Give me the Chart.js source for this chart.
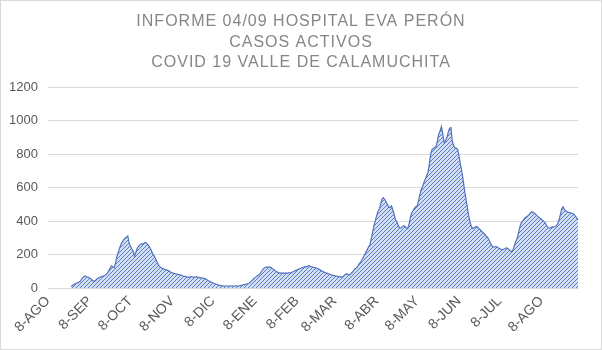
<!DOCTYPE html>
<html><head><meta charset="utf-8">
<script src="https://cdn.jsdelivr.net/npm/chart.js@4"></script>
<style>html,body{margin:0;padding:0;background:#fff}#wrap{width:602px;height:350px;position:relative}</style>
</head><body><div id="wrap"><canvas id="c"></canvas></div>
<script>
const TITLE = ['INFORME 04/09 HOSPITAL EVA PERÓN', 'CASOS ACTIVOS', 'COVID 19 VALLE DE CALAMUCHITA'];
const START_DATE = [2020, 7, 8];
const MESES = ['ENE','FEB','MAR','ABR','MAY','JUN','JUL','AGO','SEP','OCT','NOV','DIC'];
const TICK_LABELS = ['8-AGO','8-SEP','8-OCT','8-NOV','8-DIC','8-ENE','8-FEB','8-MAR','8-ABR','8-MAY','8-JUN','8-JUL','8-AGO'];
const Y_MIN = 0, Y_MAX = 1200, Y_STEP = 200;
const casosActivos = [
  null,null,null,null,null,null,null,null,null,null,null,null,null,null,null,null,null,
  8,15,20,
  24,28,32,36,42,55,64,72,70,66,
  64,58,52,45,40,44,52,58,62,66,
  70,72,76,80,90,104,120,132,126,122,
  150,190,214,240,262,276,288,298,304,312,
  270,250,234,222,192,214,238,250,258,264,
  262,268,272,268,258,248,232,214,198,184,
  168,150,134,126,120,116,112,110,108,104,
  98,94,90,88,86,84,82,80,78,76,
  72,70,68,66,64,66,68,66,64,66,
  66,64,62,62,60,58,56,52,46,42,
  38,34,30,27,24,22,18,16,14,13,
  12,12,12,11,12,12,13,12,12,13,
  12,12,14,16,18,20,22,24,27,30,
  38,46,54,62,68,74,78,88,100,112,
  120,124,126,124,126,122,116,110,104,98,
  94,90,90,88,90,88,90,88,90,90,
  92,96,100,104,108,112,114,118,122,124,
  128,126,130,134,130,126,124,122,120,118,
  114,110,104,100,96,92,90,86,84,80,
  78,76,74,72,70,68,66,66,66,74,
  82,84,80,78,86,94,104,114,120,130,
  142,154,166,180,196,212,228,244,258,290,
  330,370,400,430,458,470,500,530,540,530,
  516,500,486,480,492,470,440,410,396,376,
  360,358,366,372,370,360,355,380,420,450,
  462,476,486,490,520,556,590,606,630,650,
  672,690,740,800,828,834,840,846,880,920,
  940,966,920,870,880,900,930,955,960,880,
  850,840,836,828,790,740,700,650,590,540,
  490,440,400,370,356,360,364,368,362,354,
  346,336,330,322,312,304,290,272,256,246,
  244,248,246,240,236,232,228,232,236,240,
  238,230,222,216,230,256,280,296,330,366,
  390,400,410,420,426,432,440,450,456,452,
  446,438,430,424,418,410,404,396,386,372,
  360,358,362,366,364,368,372,384,408,440,
  476,486,470,460,456,452,450,448,446,440,
  430,420,408
];

// category labels: one per day
const fechas = [];
const dias = [];
for (let i = 0; i < casosActivos.length; i++) {
  const d = new Date(START_DATE[0], START_DATE[1], START_DATE[2] + i);
  fechas.push(d.getDate() + '-' + MESES[d.getMonth()]);
  dias.push(d.getDate());
}
let tickCount = 0;
const tickIndexOf = {};
dias.forEach((d, i) => { if (d === 8) { tickIndexOf[i] = tickCount++; } });

function makePattern() {
  const s = 4;
  const p = document.createElement('canvas');
  p.width = s; p.height = s;
  const g = p.getContext('2d');
  g.fillStyle = '#d3def3';
  g.fillRect(0, 0, s, s);
  g.strokeStyle = '#5d7ec2';
  g.lineWidth = 1;
  g.beginPath();
  g.moveTo(0, s); g.lineTo(s, 0);
  g.moveTo(-1, 1); g.lineTo(1, -1);
  g.moveTo(s - 1, s + 1); g.lineTo(s + 1, s - 1);
  g.stroke();
  return g.createPattern(p, 'repeat');
}

const FONT = "'Liberation Sans', Arial, sans-serif";

const frame = {
  id: 'frame',
  beforeDraw(chart) {
    const ctx = chart.ctx;
    ctx.save();
    ctx.fillStyle = '#ffffff';
    ctx.fillRect(0, 0, chart.width, chart.height);
    ctx.strokeStyle = '#d9d9d9';
    ctx.lineWidth = 1;
    ctx.strokeRect(0.5, 0.5, chart.width - 1, chart.height - 1);
    ctx.restore();
    const tb = chart.titleBlock;
    if (tb && !tb._spaced) {
      const orig = tb.draw.bind(tb);
      tb.draw = function () {
        const c = this.ctx;
        const prev = c.letterSpacing;
        c.letterSpacing = '1px';
        orig();
        c.letterSpacing = prev || '0px';
      };
      tb._spaced = true;
    }
  }
};

new Chart(document.getElementById('c'), {
  type: 'line',
  data: {
    labels: fechas,
    datasets: [{
      data: casosActivos,
      fill: 'origin',
      backgroundColor: makePattern(),
      borderColor: '#5173bd',
      borderWidth: 1.2,
      pointRadius: 0,
      tension: 0,
      spanGaps: false
    }]
  },
  options: {
    responsive: true,
    maintainAspectRatio: false,
    animation: false,
    layout: { padding: { left: 0, right: 0, top: 0, bottom: 4 } },
    plugins: {
      legend: { display: false },
      tooltip: { enabled: false },
      title: {
        display: true,
        text: TITLE,
        color: '#868686',
        font: { family: FONT, size: 16, weight: 'normal', lineHeight: 1.3 },
        padding: { top: 11, bottom: 14 }
      }
    },
    scales: {
      x: {
        type: 'category',
        grid: { display: false, drawTicks: false },
        border: { display: true, color: '#d9d9d9' },
        ticks: {
          autoSkip: false,
          maxRotation: 45,
          minRotation: 45,
          color: '#595959',
          font: { family: FONT, size: 14 },
          padding: 5,
          callback: function (v, i) {
            return (i in tickIndexOf) ? TICK_LABELS[tickIndexOf[i]] : null;
          }
        },
        afterFit(scale) { scale.height = 58; }
      },
      y: {
        min: Y_MIN, max: Y_MAX,
        grid: { color: '#d9d9d9', drawTicks: false },
        border: { display: false },
        ticks: {
          stepSize: Y_STEP,
          color: '#595959',
          font: { family: FONT, size: 13 },
          padding: 10,
          callback: function (v) { return String(v); }
        },
        afterFit(scale) { scale.width = 48; }
      },
      yRight: {
        position: 'right',
        min: Y_MIN, max: Y_MAX,
        grid: { display: false },
        border: { display: false },
        ticks: { display: false },
        afterFit(scale) { scale.width = 24; }
      }
    }
  },
  plugins: [frame]
});
</script>
</body></html>
